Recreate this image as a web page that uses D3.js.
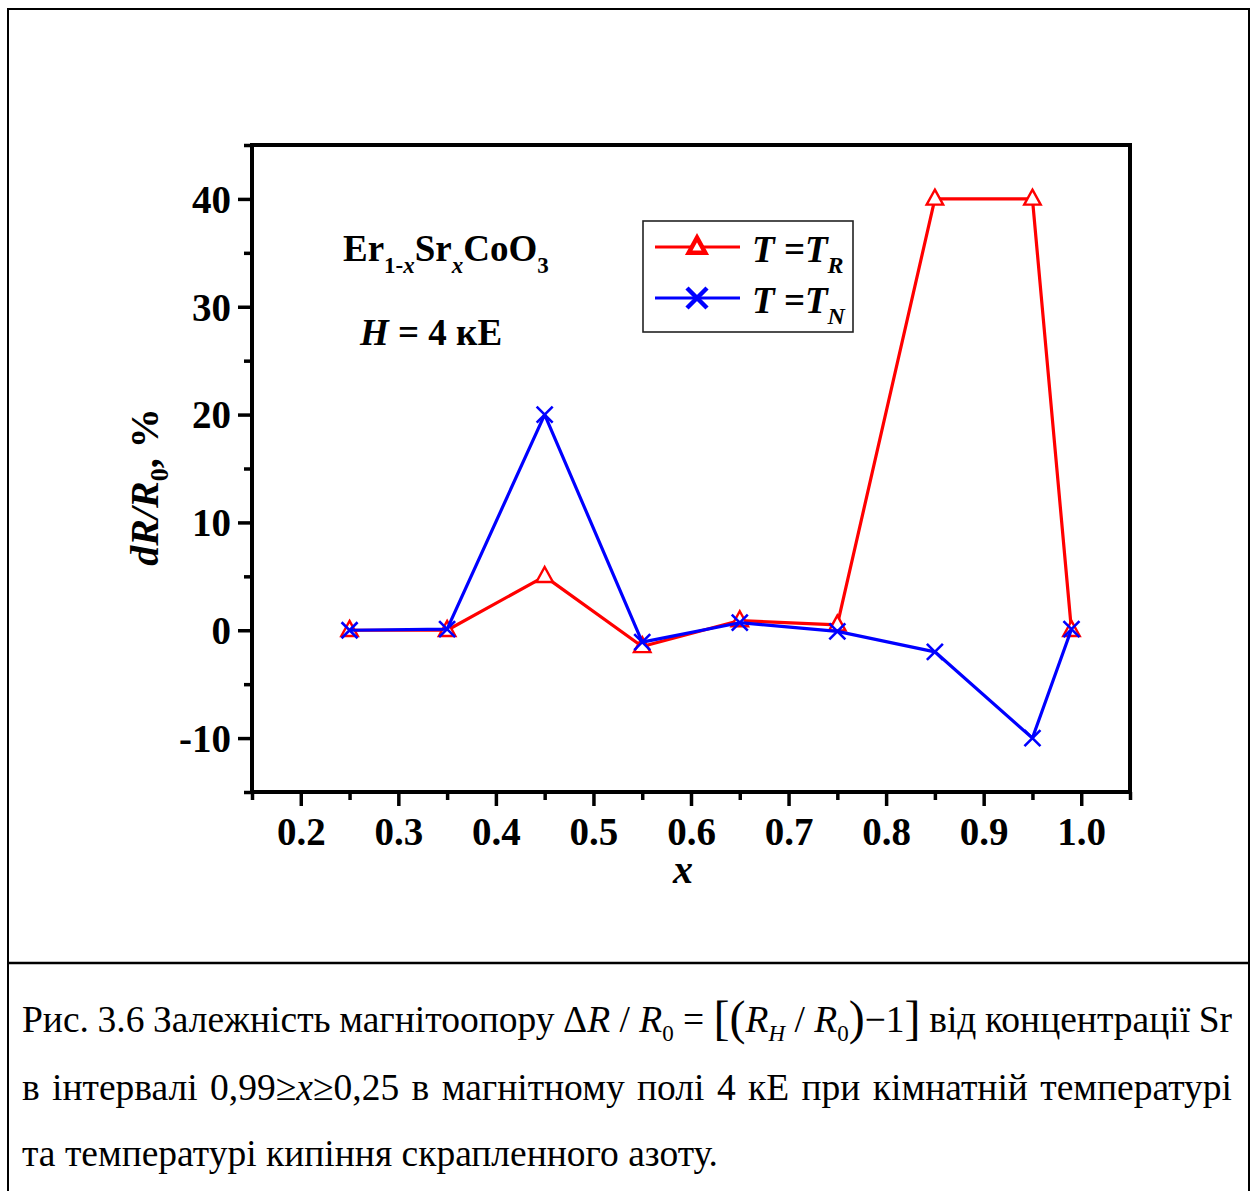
<!DOCTYPE html>
<html>
<head>
<meta charset="utf-8">
<script src="https://cdn.jsdelivr.net/npm/d3@7"></script>
<style>
  body { margin: 0; background: #fff; }
  svg { display: block; }
</style>
</head>
<body>
<svg id="chart" width="1251" height="1191"></svg>
<script>
// Sr concentration x and magnetoresistance dR/R0 (%) for the two temperatures
const xValues = [0.25, 0.35, 0.45, 0.55, 0.65, 0.75, 0.85, 0.95, 0.99];
const dR_TR = [0, 0, 5, -1.5, 0.9, 0.5, 40, 40, 0];
const dR_TN = [0, 0.1, 20, -1.1, 0.7, -0.1, -2, -10, 0.1];
const xMajorTicks = [0.2, 0.3, 0.4, 0.5, 0.6, 0.7, 0.8, 0.9, 1.0];
const xMinorTicks = [0.15, 0.25, 0.35, 0.45, 0.55, 0.65, 0.75, 0.85, 0.95, 1.05];
const yMajorTicks = [-10, 0, 10, 20, 30, 40];
const yMinorTicks = [-15, -5, 5, 15, 25, 35, 45];

const SERIF = "'Liberation Serif', 'Times New Roman', serif";
const RED = "#ff0000", BLUE = "#0000ff";

const svg = d3.select("#chart");

// outer frame and caption separator
svg.append("rect").attr("x", 8).attr("y", 9).attr("width", 1241).attr("height", 1190)
  .attr("fill", "none").attr("stroke", "#000").attr("stroke-width", 2);
svg.append("line").attr("x1", 8).attr("x2", 1249).attr("y1", 963).attr("y2", 963)
  .attr("stroke", "#000").attr("stroke-width", 2.5);

const plot = { left: 252, right: 1130, top: 145, bottom: 792 };
const x = d3.scaleLinear().domain([0.15, 1.05]).range([plot.left, plot.right]);
const y = d3.scaleLinear().domain([-15, 45]).range([plot.bottom, plot.top]);

// ticks
const gx = svg.append("g").attr("transform", `translate(0,${plot.bottom})`);
gx.call(d3.axisBottom(x).tickValues(xMajorTicks).tickSize(14).tickSizeOuter(0)
  .tickFormat(d => d.toFixed(1)));
gx.append("g").call(d3.axisBottom(x).tickValues(xMinorTicks).tickSize(8).tickFormat(""));
const gy = svg.append("g").attr("transform", `translate(${plot.left},0)`);
gy.call(d3.axisLeft(y).tickValues(yMajorTicks).tickSize(14).tickSizeOuter(0)
  .tickFormat(d => String(d)));
gy.append("g").call(d3.axisLeft(y).tickValues(yMinorTicks).tickSize(8).tickFormat(""));

svg.selectAll(".domain").remove();
svg.selectAll(".tick line").attr("stroke", "#000").attr("stroke-width", 3.5);
gx.selectAll(".tick text").attr("font-family", SERIF).attr("font-weight", "bold")
  .attr("font-size", 39).attr("fill", "#000").attr("y", 25);
gy.selectAll(".tick text").attr("font-family", SERIF).attr("font-weight", "bold")
  .attr("font-size", 39).attr("fill", "#000").attr("x", -21).attr("dy", "0.34em");

// plot frame
svg.append("rect").attr("x", plot.left).attr("y", plot.top)
  .attr("width", plot.right - plot.left).attr("height", plot.bottom - plot.top)
  .attr("fill", "none").attr("stroke", "#000").attr("stroke-width", 4);

// axis titles
svg.append("text").attr("x", 683).attr("y", 883).attr("text-anchor", "middle")
  .attr("font-family", SERIF).attr("font-weight", "bold").attr("font-style", "italic")
  .attr("font-size", 40).text("x");

const yl = svg.append("text").attr("transform", "translate(158,487) rotate(-90)")
  .attr("text-anchor", "middle").attr("font-family", SERIF).attr("font-weight", "bold")
  .attr("font-size", 40);
yl.append("tspan").attr("font-style", "italic").text("dR/R");
yl.append("tspan").attr("font-size", 26).attr("dy", 10).text("0");
yl.append("tspan").attr("dy", -10).text(", %");

// series
const line = d3.line().x(d => x(d[0])).y(d => y(d[1]));
const trData = xValues.map((v, i) => [v, dR_TR[i]]);
const tnData = xValues.map((v, i) => [v, dR_TN[i]]);

const triPath = (s) => `M0,${-s * 0.62}L${s * 0.55},${s * 0.38}L${-s * 0.55},${s * 0.38}Z`;
const crossPath = (s) => `M${-s},${-s}L${s},${s}M${-s},${s}L${s},${-s}`;

svg.append("path").datum(trData).attr("d", line).attr("fill", "none")
  .attr("stroke", RED).attr("stroke-width", 3.2).attr("stroke-linejoin", "round");
svg.append("g").selectAll("path").data(trData).join("path")
  .attr("transform", d => `translate(${x(d[0])},${y(d[1])})`)
  .attr("d", triPath(15)).attr("fill", "#fff").attr("stroke", RED).attr("stroke-width", 2.4);

svg.append("path").datum(tnData).attr("d", line).attr("fill", "none")
  .attr("stroke", BLUE).attr("stroke-width", 3.2).attr("stroke-linejoin", "round");
svg.append("g").selectAll("path").data(tnData).join("path")
  .attr("transform", d => `translate(${x(d[0])},${y(d[1])})`)
  .attr("d", crossPath(8)).attr("fill", "none").attr("stroke", BLUE).attr("stroke-width", 2.6);

// annotation: compound and field
const comp = svg.append("text").attr("x", 343).attr("y", 261)
  .attr("font-family", SERIF).attr("font-weight", "bold").attr("font-size", 37);
comp.append("tspan").text("Er");
comp.append("tspan").attr("font-size", 23).attr("dy", 12).text("1-");
comp.append("tspan").attr("font-size", 23).attr("font-style", "italic").text("x");
comp.append("tspan").attr("dy", -12).text("Sr");
comp.append("tspan").attr("font-size", 23).attr("font-style", "italic").attr("dy", 12).text("x");
comp.append("tspan").attr("dy", -12).text("CoO");
comp.append("tspan").attr("font-size", 23).attr("dy", 12).text("3");

const fld = svg.append("text").attr("x", 360).attr("y", 345)
  .attr("font-family", SERIF).attr("font-weight", "bold").attr("font-size", 37);
fld.append("tspan").attr("font-style", "italic").text("H");
fld.append("tspan").text(" = 4 кЕ");

// legend
const lg = svg.append("g");
lg.append("rect").attr("x", 643).attr("y", 221).attr("width", 210).attr("height", 111)
  .attr("fill", "#fff").attr("stroke", "#222").attr("stroke-width", 1.6);
const legendItems = [
  { color: RED, sub: "R", yy: 247, marker: "tri" },
  { color: BLUE, sub: "N", yy: 298, marker: "cross" }
];
legendItems.forEach(it => {
  lg.append("line").attr("x1", 655).attr("x2", 740).attr("y1", it.yy).attr("y2", it.yy)
    .attr("stroke", it.color).attr("stroke-width", 3);
  if (it.marker === "tri") {
    lg.append("path").attr("transform", `translate(697,${it.yy})`).attr("d", triPath(15))
      .attr("fill", "#fff").attr("stroke", it.color).attr("stroke-width", 4.5);
  } else {
    lg.append("path").attr("transform", `translate(697,${it.yy})`).attr("d", crossPath(10))
      .attr("fill", "none").attr("stroke", it.color).attr("stroke-width", 4.5);
  }
  const t = lg.append("text").attr("x", 752).attr("y", it.yy + 15)
    .attr("font-family", SERIF).attr("font-weight", "bold").attr("font-style", "italic")
    .attr("font-size", 37);
  t.append("tspan").text("T =T");
  t.append("tspan").attr("font-size", 24).attr("dy", 11).text(it.sub);
});

// caption: justified lines built from word segments
const CAP_SIZE = 37.5;
const capLeft = 22, capRight = 1232;

function segText(parent, parts) {
  const t = parent.append("text").attr("font-family", SERIF).attr("font-size", CAP_SIZE)
    .attr("fill", "#000");
  parts.forEach(p => {
    const s = t.append("tspan").text(p.t);
    if (p.i) s.attr("font-style", "italic");
    if (p.fs) s.attr("font-size", p.fs);
    if (p.dy) s.attr("dy", p.dy);
    if (p.dx) s.attr("dx", p.dx);
  });
  return t;
}

function layoutLine(baseline, segs, justify) {
  const g = svg.append("g");
  const nodes = segs.map(s => segText(g, typeof s === "string" ? [{ t: s }] : s)
    .attr("y", baseline));
  const widths = nodes.map(n => n.node().getComputedTextLength());
  const total = d3.sum(widths);
  const gap = justify ? (capRight - capLeft - total) / (nodes.length - 1) : CAP_SIZE * 0.25;
  let cx = capLeft;
  nodes.forEach((n, i) => { n.attr("x", cx); cx += widths[i] + gap; });
}

const formula = [
  { t: "Δ" }, { t: "R", i: 1 }, { t: " / " }, { t: "R", i: 1 },
  { t: "0", fs: 23, dy: 9 }, { t: " = ", dy: -9 },
  { t: "[(", fs: 48, dy: 2 }, { t: "R", i: 1, dy: -2 }, { t: "H", i: 1, fs: 23, dy: 9 },
  { t: " / ", dy: -9 }, { t: "R", i: 1 }, { t: "0", fs: 23, dy: 9 },
  { t: ")", fs: 48, dy: -7 }, { t: "−1", dy: -2 }, { t: "]", fs: 48, dy: 2 }
];

layoutLine(1032, ["Рис.", "3.6", "Залежність", "магнітоопору", formula,
  "від", "концентрації", "Sr"], true);
layoutLine(1100, ["в", "інтервалі",
  [{ t: "0,99≥" }, { t: "x", i: 1 }, { t: "≥0,25" }],
  "в", "магнітному", "полі", "4", "кЕ", "при", "кімнатній", "температурі"], true);
layoutLine(1166, ["та", "температурі", "кипіння", "скрапленного", "азоту."], false);
</script>
</body>
</html>
